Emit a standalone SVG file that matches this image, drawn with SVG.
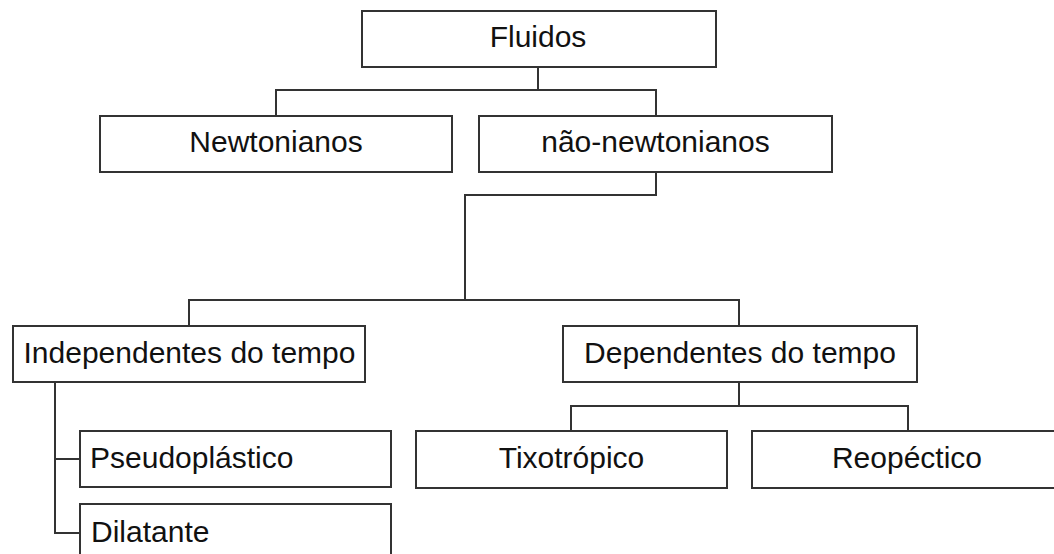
<svg xmlns="http://www.w3.org/2000/svg" width="1054" height="554" viewBox="0 0 1054 554">
<style>
.box{fill:#fff;stroke:#333;stroke-width:2}
.lbl{font-family:"Liberation Sans",Arial,sans-serif;font-size:30px;fill:#111}
.c{text-anchor:middle}
.conn{fill:none;stroke:#333;stroke-width:2}
</style>
<rect width="1054" height="554" fill="#fff"/>
<g id="connectors">
<path class="conn" d="M538 67 V90"/>
<path class="conn" d="M276 116 V90 H656 V116"/>
<path class="conn" d="M656 172 V195 H465 V300"/>
<path class="conn" d="M189 326 V300 H739 V326"/>
<path class="conn" d="M739 382 V406"/>
<path class="conn" d="M571 431 V406 H908 V431"/>
<path class="conn" d="M55 382 V533 H80"/>
<path class="conn" d="M55 459 H80"/>
</g>
<g id="fluidos"><rect class="box" x="362" y="11" width="354" height="56"/><text class="lbl c" x="538" y="47">Fluidos</text></g>
<g id="newtonianos"><rect class="box" x="100" y="116" width="352" height="56"/><text class="lbl c" x="276" y="152">Newtonianos</text></g>
<g id="nao-newtonianos"><rect class="box" x="479" y="116" width="353" height="56"/><text class="lbl c" x="655.5" y="152">não-newtonianos</text></g>
<g id="independentes"><rect class="box" x="13" y="326" width="352" height="56"/><text class="lbl c" x="189.5" y="363">Independentes do tempo</text></g>
<g id="dependentes"><rect class="box" x="563" y="326" width="354" height="56"/><text class="lbl c" x="740" y="363">Dependentes do tempo</text></g>
<g id="tixotropico"><rect class="box" x="416" y="431" width="311" height="57"/><text class="lbl c" x="571.5" y="468">Tixotrópico</text></g>
<g id="reopectico"><rect class="box" x="752" y="431" width="310" height="57"/><text class="lbl c" x="907" y="468">Reopéctico</text></g>
<g id="pseudoplastico"><rect class="box" x="80" y="431" width="311" height="56"/><text class="lbl" x="90" y="468">Pseudoplástico</text></g>
<g id="dilatante"><rect class="box" x="80" y="504" width="311" height="60"/><text class="lbl" x="91" y="542">Dilatante</text></g>
</svg>
